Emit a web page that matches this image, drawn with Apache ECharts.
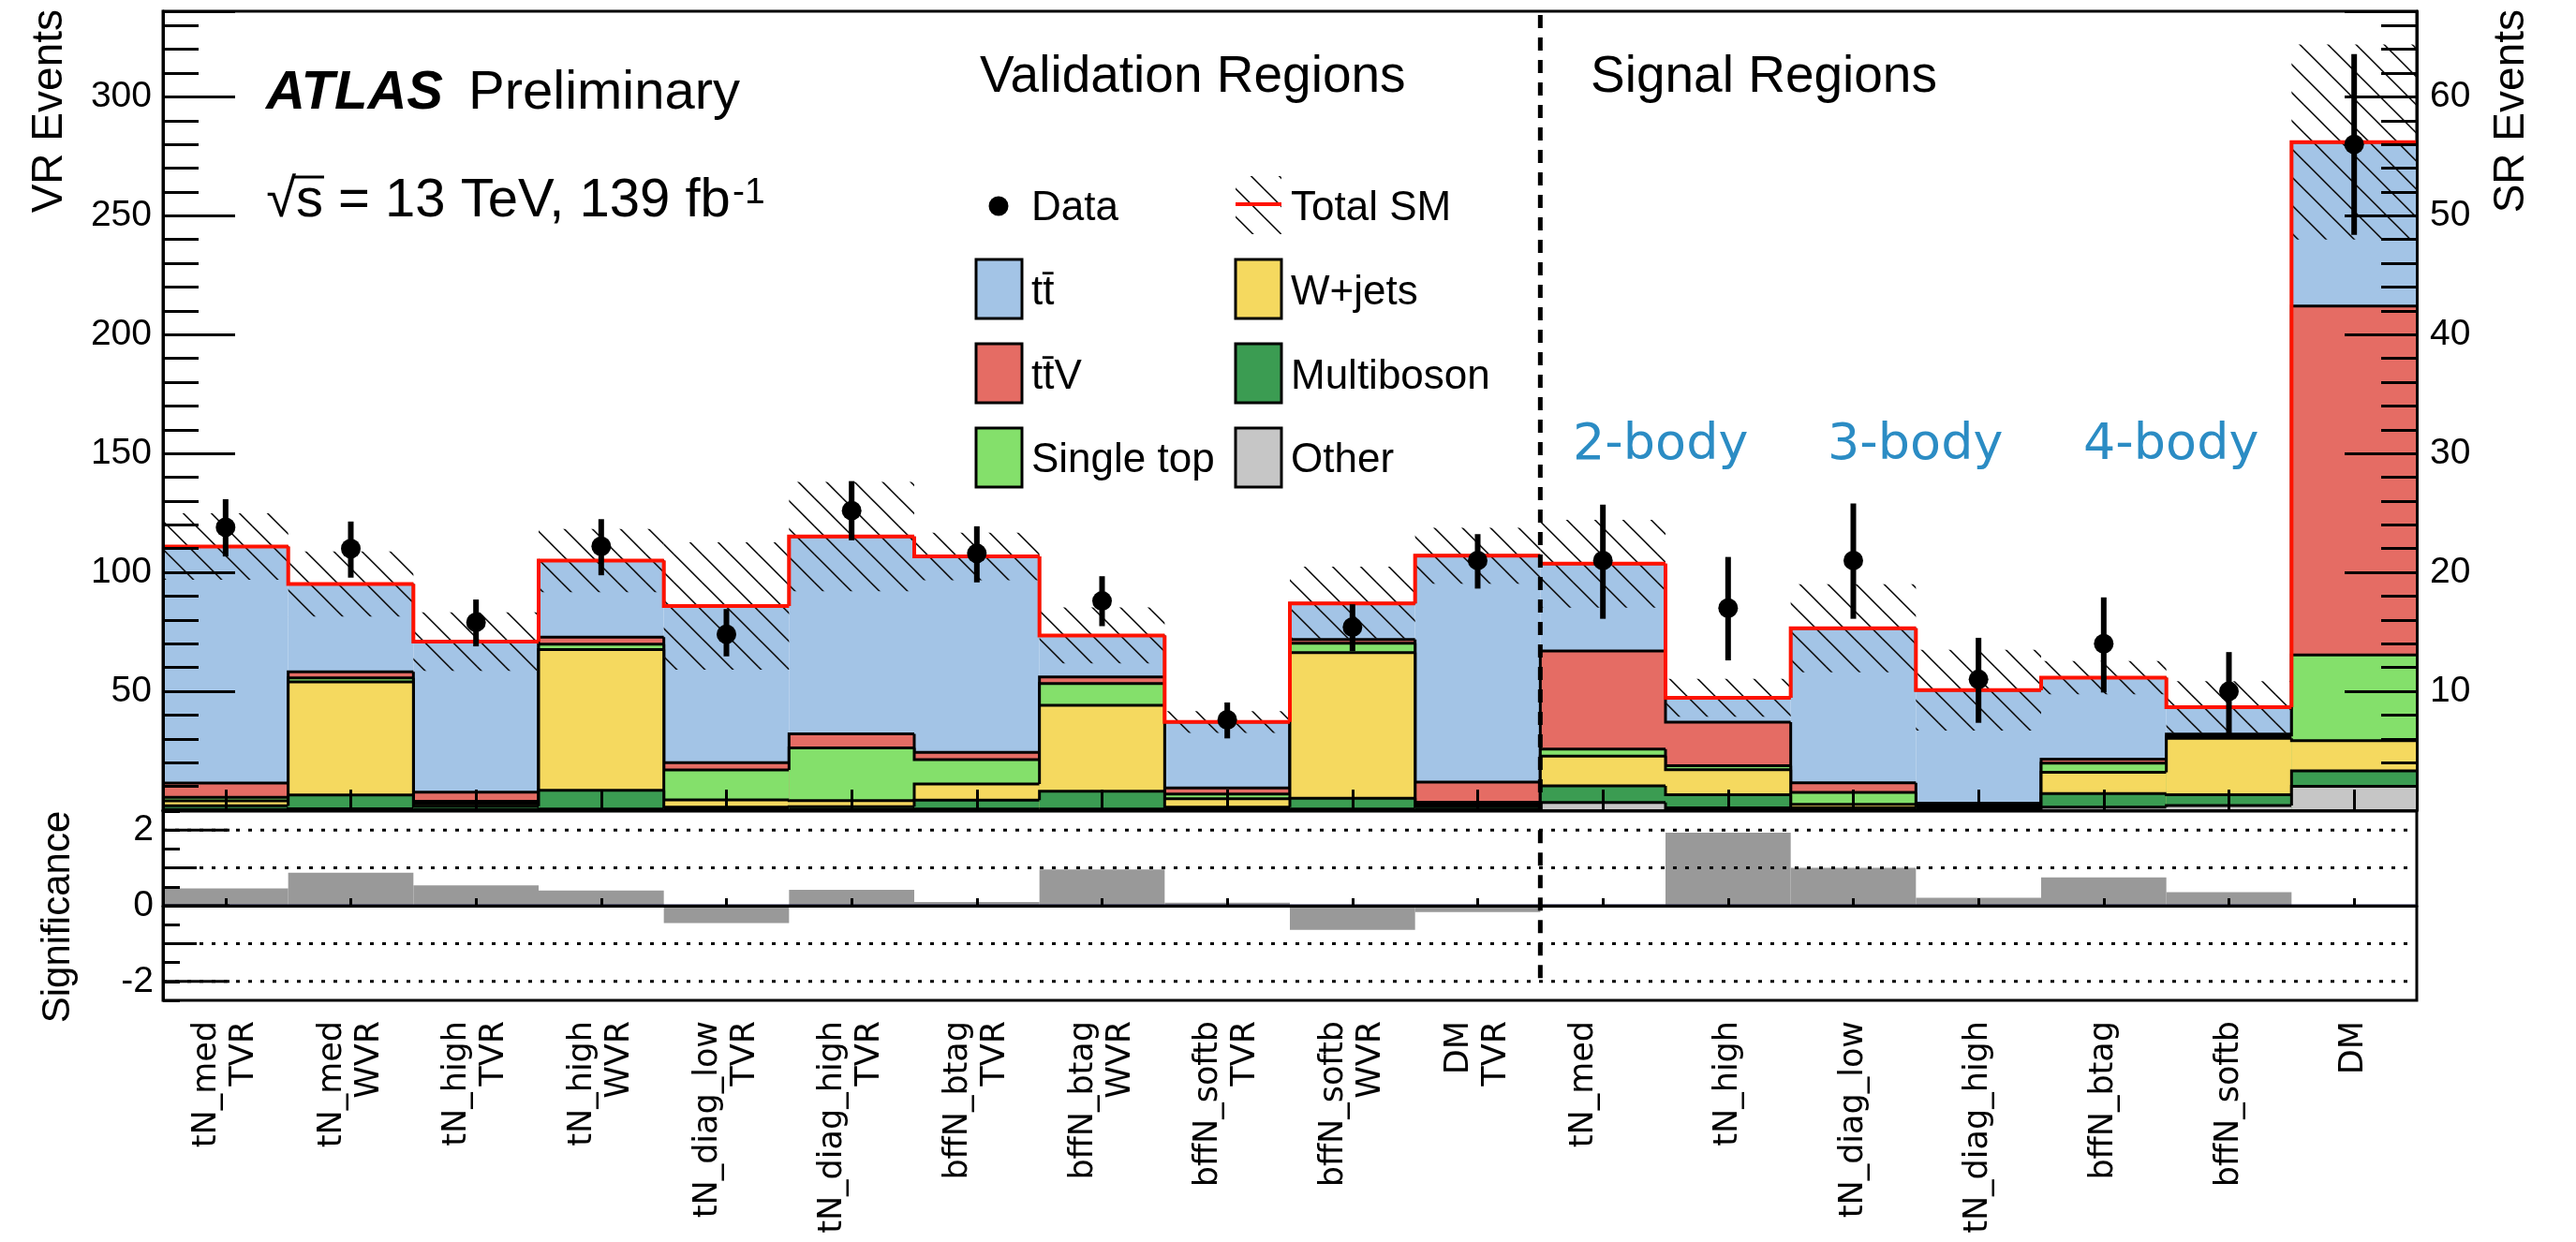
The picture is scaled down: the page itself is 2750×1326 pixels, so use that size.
<!DOCTYPE html>
<html>
<head>
<meta charset="utf-8">
<script src="https://cdn.jsdelivr.net/npm/echarts@6/dist/echarts.min.js"></script>
<style>
html,body{margin:0;padding:0;background:#fff;}
#chart{width:2750px;height:1326px;}
</style>
</head>
<body>
<div id="chart"></div>
<script>
// ---------------- DATA ----------------
const vrCategories = ['tN_med\nTVR','tN_med\nWVR','tN_high\nTVR','tN_high\nWVR','tN_diag_low\nTVR','tN_diag_high\nTVR','bffN_btag\nTVR','bffN_btag\nWVR','bffN_softb\nTVR','bffN_softb\nWVR','DM\nTVR'];
const srCategories = ['tN_med','tN_high','tN_diag_low','tN_diag_high','bffN_btag','bffN_softb','DM'];

// Validation regions (VR events)
const vrOther      = [0.3, 0.6, 0.3, 0.5, 0.3, 0.3, 0.5, 0.5, 0.3, 0.5, 0.3];
const vrMultiboson = [1.6, 5.8, 1.4, 7.9, 1.0, 1.2, 3.7, 7.5, 1.0, 4.5, 1.2];
const vrWjets      = [2.0, 47.6, 1.0, 59.2, 3.0, 2.5, 6.8, 36.1, 3.5, 61.3, 0.9];
const vrSingleTop  = [1.5, 1.6, 1.0, 2.2, 12.6, 22.2, 10.3, 9.2, 2.0, 3.9, 0.9];
const vrTtV        = [6.0, 2.6, 3.9, 3.0, 3.1, 5.9, 3.0, 2.7, 2.6, 1.6, 8.5];
const vrTtbar      = [99.5, 36.9, 63.3, 32.2, 65.9, 83.0, 82.4, 17.5, 27.7, 15.2, 95.2];
const vrTotalUnc   = [14.0, 13.7, 12.3, 13.3, 26.8, 23.0, 10.0, 11.8, 4.6, 15.4, 11.8];
const vrData       = [119, 110, 79, 111, 74, 126, 108, 88, 38, 77, 105];
const vrDataErrUp  = [11.8, 11.4, 9.6, 11.4, 10.6, 12.4, 11.4, 10.4, 7.3, 9.6, 11.1];
const vrDataErrDn  = [12.3, 12.2, 10.1, 12.2, 9.3, 12.5, 12.2, 10.6, 7.8, 10.1, 11.8];

// Signal regions (SR events)
const srOther      = [0.65, 0.2, 0.05, 0.05, 0.25, 0.4, 2.0];
const srMultiboson = [1.4, 1.1, 0.15, 0.15, 1.15, 0.9, 1.3];
const srWjets      = [2.5, 2.1, 0.3, 0.1, 1.8, 4.75, 2.55];
const srSingleTop  = [0.6, 0.35, 1.0, 0.1, 0.75, 0.15, 7.2];
const srTtV        = [8.25, 3.65, 0.8, 0.2, 0.35, 0.2, 29.35];
const srTtbar      = [7.33, 2.05, 13.0, 9.5, 6.85, 2.26, 13.8];
const srTotalUnc   = [3.7, 1.6, 3.7, 3.4, 1.4, 2.2, 8.2];
const srData       = [21, 17, 21, 11, 14, 10, 56];
const srDataErrUp  = [4.7, 4.3, 4.8, 3.5, 3.9, 3.3, 7.6];
const srDataErrDn  = [4.9, 4.4, 4.9, 3.65, 4.1, 3.6, 7.6];

// Significance (all regions, same order)
const significance = [0.46, 0.875, 0.54, 0.40, -0.46, 0.42, 0.10, 0.96, 0.08, -0.64, -0.17, 0.03, 1.93, 1.0, 0.21, 0.75, 0.36, 0.0];

// ---------------- SETUP ----------------
const vrAxisMax = 336, srAxisMax = 67.2;
const VR_PER_SR = vrAxisMax / srAxisMax;
const categories = vrCategories.concat(srCategories);
const nVR = vrCategories.length;

const components = [
  {name:'Other',      color:'#c6c6c6', vr:vrOther,      sr:srOther},
  {name:'Multiboson', color:'#3b9c52', vr:vrMultiboson, sr:srMultiboson},
  {name:'W+jets',     color:'#f5d95f', vr:vrWjets,      sr:srWjets},
  {name:'Single top', color:'#84e06b', vr:vrSingleTop,  sr:srSingleTop},
  {name:'ttV',        color:'#e56c64', vr:vrTtV,        sr:srTtV},
  {name:'ttbar',      color:'#a3c4e6', vr:vrTtbar,      sr:srTtbar}
];
function cumulative(key) {
  const out = []; let run = null;
  components.forEach(c => {
    run = c[key].map((v, i) => (run ? run[i] : 0) + v);
    out.push(run);
  });
  return out;
}
const cumVR = cumulative('vr');
const cumSR = cumulative('sr');
const vrTotal = cumVR[cumVR.length - 1];
const srTotal = cumSR[cumSR.length - 1];

function makeHatch() {
  const c = document.createElement('canvas');
  c.width = 30; c.height = 30;
  const ctx = c.getContext('2d');
  ctx.strokeStyle = '#111'; ctx.lineWidth = 1.6;
  [-30, 0, 30].forEach(off => {
    ctx.beginPath();
    ctx.moveTo(off + 7.7 - 3, -3);
    ctx.lineTo(off + 7.7 + 33, 33);
    ctx.stroke();
  });
  return c;
}
const hatchPattern = {image: makeHatch(), repeat: 'repeat'};

// ---------------- RENDERERS ----------------
function stepRender(fillColor, lineColor, lineW) {
  return function (params, api) {
    const i = api.value(0), level = api.value(1), prev = api.value(2);
    const top = api.coord([i, level]);
    const bot = api.coord([i, 0]);
    const pPrev = api.coord([i, prev]);
    const w = api.size([1, 0])[0];
    const x0 = top[0] - w / 2, x1 = top[0] + w / 2;
    const children = [];
    if (fillColor) {
      children.push({type:'rect', shape:{x:x0, y:top[1], width:w, height:bot[1] - top[1]}, style:{fill:fillColor}});
    }
    children.push({type:'polyline', shape:{points:[[x0, pPrev[1]], [x0, top[1]], [x1, top[1]]]},
      style:{stroke:lineColor, lineWidth:lineW, fill:'none'}});
    return {type:'group', children};
  };
}
function hatchRender(params, api) {
  const i = api.value(0), t = api.value(1), u = api.value(2);
  const a = api.coord([i, t + u]), b = api.coord([i, t - u]);
  const w = api.size([1, 0])[0];
  return {type:'rect', shape:{x:a[0] - w / 2, y:a[1], width:w, height:b[1] - a[1]}, style:{fill:hatchPattern}};
}
function dataRender(params, api) {
  const i = api.value(0), v = api.value(1), up = api.value(2), dn = api.value(3);
  const c = api.coord([i, v]), a = api.coord([i, v + up]), b = api.coord([i, v - dn]);
  return {type:'group', children:[
    {type:'line', shape:{x1:c[0], y1:a[1], x2:c[0], y2:b[1]}, style:{stroke:'#000', lineWidth:6}},
    {type:'circle', shape:{cx:c[0], cy:c[1], r:10.5}, style:{fill:'#000'}}
  ]};
}
function sigBarRender(params, api) {
  const i = api.value(0), v = api.value(1);
  const a = api.coord([i, v]), b = api.coord([i, 0]);
  const w = api.size([1, 0])[0];
  return {type:'rect', shape:{x:a[0] - w / 2, y:Math.min(a[1], b[1]), width:w, height:Math.abs(b[1] - a[1])}, style:{fill:'#999999'}};
}
function sigLinesRender(params, api) {
  const cs = params.coordSys;
  const x0 = cs.x, x1 = cs.x + cs.width;
  const ch = [];
  [-2, -1, 1, 2].forEach(v => {
    const y = api.coord([0, v])[1];
    ch.push({type:'line', shape:{x1:x0, y1:y, x2:x1, y2:y}, style:{stroke:'#000', lineWidth:3, lineDash:[4, 9]}});
  });
  const y0 = api.coord([0, 0])[1];
  ch.push({type:'line', shape:{x1:x0, y1:y0, x2:x1, y2:y0}, style:{stroke:'#10103a', lineWidth:3}});
  [-2, -1, 0, 1, 2].forEach(v => {
    const y = api.coord([0, v])[1];
    const len = (v % 2 === 0) ? 71 : 36;
    ch.push({type:'line', shape:{x1:x0, y1:y, x2:x0 + len, y2:y}, style:{stroke:'#000', lineWidth:3}});
  });
  return {type:'group', children:ch};
}
function dividerRender(yTopVal, yBotVal) {
  return function (params, api) {
    const i = api.value(0);
    const w = api.size([1, 0])[0];
    const x = api.coord([i, 0])[0] + w / 2;
    const cs = params.coordSys;
    const yT = (yTopVal === null) ? cs.y + 4 : api.coord([i, yTopVal])[1];
    const yB = (yBotVal === null) ? cs.y + cs.height : api.coord([i, yBotVal])[1];
    return {type:'line', shape:{x1:x, y1:yT, x2:x, y2:yB}, style:{stroke:'#000', lineWidth:5, lineDash:[14, 10]}};
  };
}

// ---------------- SERIES ----------------
const series = [];
for (let k = components.length - 1; k >= 0; k--) {
  const c = components[k];
  series.push({
    type:'custom', name:c.name + ' VR', xAxisIndex:0, yAxisIndex:0, z:2,
    renderItem: stepRender(c.color, '#000', 3), encode:{x:0, y:1},
    data: cumVR[k].map((v, i) => [i, v, i > 0 ? cumVR[k][i - 1] : v])
  });
  series.push({
    type:'custom', name:c.name + ' SR', xAxisIndex:0, yAxisIndex:2, z:2,
    renderItem: stepRender(c.color, '#000', 3), encode:{x:0, y:1},
    data: cumSR[k].map((v, j) => [nVR + j, v, j > 0 ? cumSR[k][j - 1] : cumVR[k][nVR - 1] / VR_PER_SR])
  });
}
series.push({type:'custom', name:'Unc VR', xAxisIndex:0, yAxisIndex:0, z:3, renderItem:hatchRender, encode:{x:0, y:1},
  data: vrTotal.map((t, i) => [i, t, vrTotalUnc[i]])});
series.push({type:'custom', name:'Unc SR', xAxisIndex:0, yAxisIndex:2, z:3, renderItem:hatchRender, encode:{x:0, y:1},
  data: srTotal.map((t, j) => [nVR + j, t, srTotalUnc[j]])});
series.push({type:'custom', name:'Total SM VR', xAxisIndex:0, yAxisIndex:0, z:4, renderItem:stepRender(null, '#ff1200', 4), encode:{x:0, y:1},
  data: vrTotal.map((t, i) => [i, t, i > 0 ? vrTotal[i - 1] : t])});
series.push({type:'custom', name:'Total SM SR', xAxisIndex:0, yAxisIndex:2, z:4, renderItem:stepRender(null, '#ff1200', 4), encode:{x:0, y:1},
  data: srTotal.map((t, j) => [nVR + j, t, j > 0 ? srTotal[j - 1] : vrTotal[nVR - 1] / VR_PER_SR])});
series.push({type:'custom', name:'Data VR', xAxisIndex:0, yAxisIndex:0, z:5, renderItem:dataRender, encode:{x:0, y:1},
  data: vrData.map((v, i) => [i, v, vrDataErrUp[i], vrDataErrDn[i]])});
series.push({type:'custom', name:'Data SR', xAxisIndex:0, yAxisIndex:2, z:5, renderItem:dataRender, encode:{x:0, y:1},
  data: srData.map((v, j) => [nVR + j, v, srDataErrUp[j], srDataErrDn[j]])});
series.push({type:'custom', name:'Divider main', xAxisIndex:0, yAxisIndex:0, z:6, renderItem:dividerRender(null, null), encode:{x:0, y:1},
  data: [[nVR - 1, 0]]});
// significance panel
series.push({type:'custom', name:'Significance', xAxisIndex:1, yAxisIndex:4, z:2, renderItem:sigBarRender, encode:{x:0, y:1},
  data: significance.map((v, i) => [i, v])});
series.push({type:'custom', name:'Sig lines', xAxisIndex:1, yAxisIndex:4, z:3, renderItem:sigLinesRender, encode:{x:0, y:1},
  data: [[0, 0]]});
series.push({type:'custom', name:'Divider sig', xAxisIndex:1, yAxisIndex:4, z:6, renderItem:dividerRender(2.0, -2), encode:{x:0, y:1},
  data: [[nVR - 1, 0]]});

// ---------------- AXES ----------------
const tickStyle = {color:'#000', width:3};
const numFont = {fontFamily:'"Liberation Sans", Arial, sans-serif', fontSize:39, color:'#000'};
function isMult(v, m) { return Math.abs(v / m - Math.round(v / m)) < 1e-6; }
const font = '"Liberation Sans", Arial, sans-serif';

const option = {
  animation:false,
  backgroundColor:'#ffffff',
  grid:[
    {left:174, top:12, width:2406, height:853, show:true, borderColor:'#000', borderWidth:3, backgroundColor:'transparent'},
    {left:174, top:866, width:2406, height:202, show:true, borderColor:'#000', borderWidth:3, backgroundColor:'transparent'}
  ],
  xAxis:[
    {gridIndex:0, type:'category', data:categories, boundaryGap:true, z:10,
      axisLine:{show:true, lineStyle:tickStyle},
      axisTick:{show:true, inside:true, length:22, alignWithLabel:true, lineStyle:tickStyle},
      axisLabel:{show:false}, splitLine:{show:false}},
    {gridIndex:1, type:'category', data:categories, boundaryGap:true, z:10,
      axisLine:{show:true, lineStyle:tickStyle},
      axisTick:{show:true, inside:true, length:8, alignWithLabel:true, lineStyle:tickStyle},
      axisLabel:{show:true, interval:0, rotate:90, margin:22, fontFamily:'"DejaVu Sans", sans-serif', fontSize:35, lineHeight:40, color:'#000',
        formatter:(v, idx) => (idx === nVR) ? v + '\n ' : v},
      splitLine:{show:false}}
  ],
  yAxis:[
    {gridIndex:0, type:'value', min:0, max:vrAxisMax, interval:50, position:'left', z:10,
      axisLine:{show:true, lineStyle:tickStyle}, axisTick:{show:true, inside:true, length:77, lineStyle:tickStyle},
      axisLabel:{show:false}, splitLine:{show:false}},
    {gridIndex:0, type:'value', min:0, max:vrAxisMax, interval:10, position:'left', z:10,
      axisLine:{show:false}, axisTick:{show:true, inside:true, length:38, lineStyle:tickStyle},
      axisLabel:Object.assign({show:true, margin:12, formatter:v => (v > 0 && isMult(v, 50)) ? String(Math.round(v)) : ''}, numFont),
      splitLine:{show:false}},
    {gridIndex:0, type:'value', min:0, max:srAxisMax, interval:10, position:'right', z:10,
      axisLine:{show:true, lineStyle:tickStyle}, axisTick:{show:true, inside:true, length:77, lineStyle:tickStyle},
      axisLabel:{show:false}, splitLine:{show:false}},
    {gridIndex:0, type:'value', min:0, max:srAxisMax, interval:2, position:'right', z:10,
      axisLine:{show:false}, axisTick:{show:true, inside:true, length:38, lineStyle:tickStyle},
      axisLabel:Object.assign({show:true, margin:14, formatter:v => (v > 0 && isMult(v, 10)) ? String(Math.round(v)) : ''}, numFont),
      splitLine:{show:false}},
    {gridIndex:1, type:'value', min:-2.5, max:2.5, interval:0.5, position:'left', z:10,
      axisLine:{show:true, lineStyle:tickStyle}, axisTick:{show:true, inside:true, length:18, lineStyle:tickStyle},
      axisLabel:Object.assign({show:true, margin:10, formatter:v => (isMult(v, 2) && Math.abs(v) < 2.4) ? String(Math.round(v)) : ''}, numFont),
      splitLine:{show:false}}
  ],
  series:series,
  graphic:{elements:[
    // axis titles
    {type:'text', z:100, x:53, y:10, rotation:Math.PI / 2,
      style:{text:'VR Events', fontFamily:font, fontSize:46, fill:'#000', textAlign:'right', textVerticalAlign:'middle'}},
    {type:'text', z:100, x:2681, y:10, rotation:Math.PI / 2,
      style:{text:'SR Events', fontFamily:font, fontSize:46, fill:'#000', textAlign:'right', textVerticalAlign:'middle'}},
    {type:'text', z:100, x:62, y:979, rotation:Math.PI / 2,
      style:{text:'Significance', fontFamily:font, fontSize:42, fill:'#000', textAlign:'center', textVerticalAlign:'middle'}},
    // ATLAS label
    {type:'text', z:100, x:284, y:100,
      style:{text:'ATLAS', fontFamily:font, fontWeight:'bold', fontStyle:'italic', fontSize:58, fill:'#000', textAlign:'left', textVerticalAlign:'middle'}},
    {type:'text', z:100, x:500, y:100,
      style:{text:'Preliminary', fontFamily:font, fontSize:58, fill:'#000', textAlign:'left', textVerticalAlign:'middle'}},
    {type:'text', z:100, x:316, y:215,
      style:{text:'√', fontFamily:font, fontSize:58, fill:'#000', textAlign:'right', textVerticalAlign:'middle'}},
    {type:'line', z:100, shape:{x1:312, y1:189, x2:346, y2:189}, style:{stroke:'#000', lineWidth:3}},
    {type:'text', z:100, x:316, y:215,
      style:{text:'s = 13 TeV, 139 fb', fontFamily:font, fontSize:58, fill:'#000', textAlign:'left', textVerticalAlign:'middle'}},
    {type:'text', z:100, x:782, y:206,
      style:{text:'-1', fontFamily:font, fontSize:39, fill:'#000', textAlign:'left', textVerticalAlign:'middle'}},
    // region titles
    {type:'text', z:100, x:1046, y:83,
      style:{text:'Validation Regions', fontFamily:font, fontSize:55, fill:'#000', textAlign:'left', textVerticalAlign:'middle'}},
    {type:'text', z:100, x:1698, y:83,
      style:{text:'Signal Regions', fontFamily:font, fontSize:55, fill:'#000', textAlign:'left', textVerticalAlign:'middle'}},
    // body labels
    {type:'text', z:100, x:1679, y:476,
      style:{text:'2-body', fontFamily:'"DejaVu Sans", sans-serif', fontSize:54, fill:'#2b8cc4', textAlign:'left', textVerticalAlign:'middle'}},
    {type:'text', z:100, x:1951, y:476,
      style:{text:'3-body', fontFamily:'"DejaVu Sans", sans-serif', fontSize:54, fill:'#2b8cc4', textAlign:'left', textVerticalAlign:'middle'}},
    {type:'text', z:100, x:2224, y:476,
      style:{text:'4-body', fontFamily:'"DejaVu Sans", sans-serif', fontSize:54, fill:'#2b8cc4', textAlign:'left', textVerticalAlign:'middle'}},
    // legend
    {type:'circle', z:100, shape:{cx:1066, cy:220, r:10.5}, style:{fill:'#000'}},
    {type:'rect', z:100, shape:{x:1319, y:188, width:49, height:62}, style:{fill:hatchPattern}},
    {type:'line', z:101, shape:{x1:1319, y1:218, x2:1368, y2:218}, style:{stroke:'#ff1200', lineWidth:4}},
    {type:'rect', z:100, shape:{x:1042, y:277, width:49, height:63}, style:{fill:components[5].color, stroke:'#000', lineWidth:3}},
    {type:'rect', z:100, shape:{x:1319, y:277, width:49, height:63}, style:{fill:components[2].color, stroke:'#000', lineWidth:3}},
    {type:'rect', z:100, shape:{x:1042, y:367, width:49, height:63}, style:{fill:components[4].color, stroke:'#000', lineWidth:3}},
    {type:'rect', z:100, shape:{x:1319, y:367, width:49, height:63}, style:{fill:components[1].color, stroke:'#000', lineWidth:3}},
    {type:'rect', z:100, shape:{x:1042, y:457, width:49, height:63}, style:{fill:components[3].color, stroke:'#000', lineWidth:3}},
    {type:'rect', z:100, shape:{x:1319, y:457, width:49, height:63}, style:{fill:components[0].color, stroke:'#000', lineWidth:3}},
    {type:'text', z:100, x:1101, y:223, style:{text:'Data', fontFamily:font, fontSize:44, fill:'#000', textVerticalAlign:'middle'}},
    {type:'text', z:100, x:1378, y:223, style:{text:'Total SM', fontFamily:font, fontSize:44, fill:'#000', textVerticalAlign:'middle'}},
    {type:'text', z:100, x:1101, y:313, style:{text:'tt\u0304', fontFamily:font, fontSize:44, fill:'#000', textVerticalAlign:'middle'}},
    {type:'text', z:100, x:1378, y:313, style:{text:'W+jets', fontFamily:font, fontSize:44, fill:'#000', textVerticalAlign:'middle'}},
    {type:'text', z:100, x:1101, y:403, style:{text:'tt\u0304V', fontFamily:font, fontSize:44, fill:'#000', textVerticalAlign:'middle'}},
    {type:'text', z:100, x:1378, y:403, style:{text:'Multiboson', fontFamily:font, fontSize:44, fill:'#000', textVerticalAlign:'middle'}},
    {type:'text', z:100, x:1101, y:492, style:{text:'Single top', fontFamily:font, fontSize:44, fill:'#000', textVerticalAlign:'middle'}},
    {type:'text', z:100, x:1378, y:492, style:{text:'Other', fontFamily:font, fontSize:44, fill:'#000', textVerticalAlign:'middle'}}
  ]}
};

const chart = echarts.init(document.getElementById('chart'), null, {renderer:'canvas', width:2750, height:1326});
chart.setOption(option);
</script>
</body>
</html>
